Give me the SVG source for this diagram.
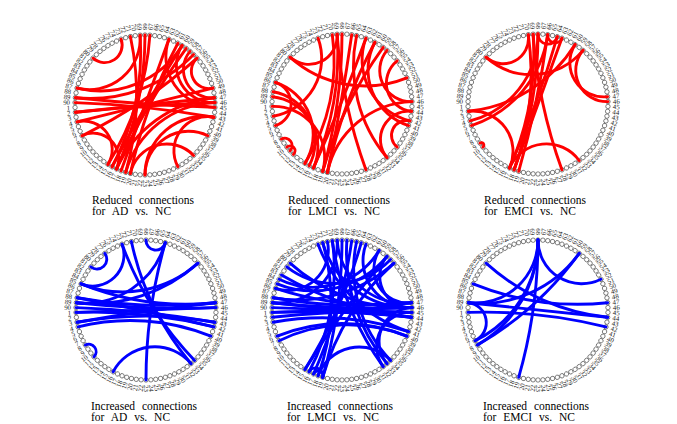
<svg xmlns="http://www.w3.org/2000/svg" xmlns:xlink="http://www.w3.org/1999/xlink" width="677" height="424" viewBox="0 0 677 424">
<style>
.n circle{fill:#fff;stroke:#333;stroke-width:0.6}
.lb text{font-family:'Liberation Serif','Times New Roman',serif;font-size:6.8px;fill:#1a1a1a;dominant-baseline:central}
.lb .e{text-anchor:end}
.red path{fill:none;stroke:#f00;stroke-width:2.9;stroke-linecap:round}
.blue path{fill:none;stroke:#00f;stroke-width:2.9;stroke-linecap:round}
.cap{font-family:'Liberation Serif','Times New Roman',serif;font-size:11.5px;word-spacing:4px;fill:#000}
</style>
<defs>
<g id="ring">
<g class="n">
<circle cx="70" r="2.2" transform="rotate(178)"/><circle cx="70" r="2.2" transform="rotate(174)"/><circle cx="70" r="2.2" transform="rotate(170)"/><circle cx="70" r="2.2" transform="rotate(166)"/><circle cx="70" r="2.2" transform="rotate(162)"/><circle cx="70" r="2.2" transform="rotate(158)"/><circle cx="70" r="2.2" transform="rotate(154)"/><circle cx="70" r="2.2" transform="rotate(150)"/><circle cx="70" r="2.2" transform="rotate(146)"/><circle cx="70" r="2.2" transform="rotate(142)"/><circle cx="70" r="2.2" transform="rotate(138)"/><circle cx="70" r="2.2" transform="rotate(134)"/><circle cx="70" r="2.2" transform="rotate(130)"/><circle cx="70" r="2.2" transform="rotate(126)"/><circle cx="70" r="2.2" transform="rotate(122)"/><circle cx="70" r="2.2" transform="rotate(118)"/><circle cx="70" r="2.2" transform="rotate(114)"/><circle cx="70" r="2.2" transform="rotate(110)"/><circle cx="70" r="2.2" transform="rotate(106)"/><circle cx="70" r="2.2" transform="rotate(102)"/><circle cx="70" r="2.2" transform="rotate(98)"/><circle cx="70" r="2.2" transform="rotate(94)"/><circle cx="70" r="2.2" transform="rotate(90)"/><circle cx="70" r="2.2" transform="rotate(86)"/><circle cx="70" r="2.2" transform="rotate(82)"/><circle cx="70" r="2.2" transform="rotate(78)"/><circle cx="70" r="2.2" transform="rotate(74)"/><circle cx="70" r="2.2" transform="rotate(70)"/><circle cx="70" r="2.2" transform="rotate(66)"/><circle cx="70" r="2.2" transform="rotate(62)"/><circle cx="70" r="2.2" transform="rotate(58)"/><circle cx="70" r="2.2" transform="rotate(54)"/><circle cx="70" r="2.2" transform="rotate(50)"/><circle cx="70" r="2.2" transform="rotate(46)"/><circle cx="70" r="2.2" transform="rotate(42)"/><circle cx="70" r="2.2" transform="rotate(38)"/><circle cx="70" r="2.2" transform="rotate(34)"/><circle cx="70" r="2.2" transform="rotate(30)"/><circle cx="70" r="2.2" transform="rotate(26)"/><circle cx="70" r="2.2" transform="rotate(22)"/><circle cx="70" r="2.2" transform="rotate(18)"/><circle cx="70" r="2.2" transform="rotate(14)"/><circle cx="70" r="2.2" transform="rotate(10)"/><circle cx="70" r="2.2" transform="rotate(6)"/><circle cx="70" r="2.2" transform="rotate(2)"/>
<circle cx="70" r="2.2" transform="rotate(-2)"/><circle cx="70" r="2.2" transform="rotate(-6)"/><circle cx="70" r="2.2" transform="rotate(-10)"/><circle cx="70" r="2.2" transform="rotate(-14)"/><circle cx="70" r="2.2" transform="rotate(-18)"/><circle cx="70" r="2.2" transform="rotate(-22)"/><circle cx="70" r="2.2" transform="rotate(-26)"/><circle cx="70" r="2.2" transform="rotate(-30)"/><circle cx="70" r="2.2" transform="rotate(-34)"/><circle cx="70" r="2.2" transform="rotate(-38)"/><circle cx="70" r="2.2" transform="rotate(-42)"/><circle cx="70" r="2.2" transform="rotate(-46)"/><circle cx="70" r="2.2" transform="rotate(-50)"/><circle cx="70" r="2.2" transform="rotate(-54)"/><circle cx="70" r="2.2" transform="rotate(-58)"/><circle cx="70" r="2.2" transform="rotate(-62)"/><circle cx="70" r="2.2" transform="rotate(-66)"/><circle cx="70" r="2.2" transform="rotate(-70)"/><circle cx="70" r="2.2" transform="rotate(-74)"/><circle cx="70" r="2.2" transform="rotate(-78)"/><circle cx="70" r="2.2" transform="rotate(-82)"/><circle cx="70" r="2.2" transform="rotate(-86)"/><circle cx="70" r="2.2" transform="rotate(-90)"/><circle cx="70" r="2.2" transform="rotate(-94)"/><circle cx="70" r="2.2" transform="rotate(-98)"/><circle cx="70" r="2.2" transform="rotate(-102)"/><circle cx="70" r="2.2" transform="rotate(-106)"/><circle cx="70" r="2.2" transform="rotate(-110)"/><circle cx="70" r="2.2" transform="rotate(-114)"/><circle cx="70" r="2.2" transform="rotate(-118)"/><circle cx="70" r="2.2" transform="rotate(-122)"/><circle cx="70" r="2.2" transform="rotate(-126)"/><circle cx="70" r="2.2" transform="rotate(-130)"/><circle cx="70" r="2.2" transform="rotate(-134)"/><circle cx="70" r="2.2" transform="rotate(-138)"/><circle cx="70" r="2.2" transform="rotate(-142)"/><circle cx="70" r="2.2" transform="rotate(-146)"/><circle cx="70" r="2.2" transform="rotate(-150)"/><circle cx="70" r="2.2" transform="rotate(-154)"/><circle cx="70" r="2.2" transform="rotate(-158)"/><circle cx="70" r="2.2" transform="rotate(-162)"/><circle cx="70" r="2.2" transform="rotate(-166)"/><circle cx="70" r="2.2" transform="rotate(-170)"/><circle cx="70" r="2.2" transform="rotate(-174)"/><circle cx="70" r="2.2" transform="rotate(-178)"/>
</g>
<g class="lb">
<text class="e" x="-75" transform="rotate(-2)">1</text><text class="e" x="-75" transform="rotate(-6)">2</text><text class="e" x="-75" transform="rotate(-10)">3</text><text class="e" x="-75" transform="rotate(-14)">4</text><text class="e" x="-75" transform="rotate(-18)">5</text><text class="e" x="-75" transform="rotate(-22)">6</text><text class="e" x="-75" transform="rotate(-26)">7</text><text class="e" x="-75" transform="rotate(-30)">8</text><text class="e" x="-75" transform="rotate(-34)">9</text><text class="e" x="-75" transform="rotate(-38)">10</text><text class="e" x="-75" transform="rotate(-42)">11</text><text class="e" x="-75" transform="rotate(-46)">12</text><text class="e" x="-75" transform="rotate(-50)">13</text><text class="e" x="-75" transform="rotate(-54)">14</text><text class="e" x="-75" transform="rotate(-58)">15</text><text class="e" x="-75" transform="rotate(-62)">16</text><text class="e" x="-75" transform="rotate(-66)">17</text><text class="e" x="-75" transform="rotate(-70)">18</text><text class="e" x="-75" transform="rotate(-74)">19</text><text class="e" x="-75" transform="rotate(-78)">20</text><text class="e" x="-75" transform="rotate(-82)">21</text><text class="e" x="-75" transform="rotate(-86)">22</text>
<text x="75" transform="rotate(90)">23</text><text x="75" transform="rotate(86)">24</text><text x="75" transform="rotate(82)">25</text><text x="75" transform="rotate(78)">26</text><text x="75" transform="rotate(74)">27</text><text x="75" transform="rotate(70)">28</text><text x="75" transform="rotate(66)">29</text><text x="75" transform="rotate(62)">30</text><text x="75" transform="rotate(58)">31</text><text x="75" transform="rotate(54)">32</text><text x="75" transform="rotate(50)">33</text><text x="75" transform="rotate(46)">34</text><text x="75" transform="rotate(42)">35</text><text x="75" transform="rotate(38)">36</text><text x="75" transform="rotate(34)">37</text><text x="75" transform="rotate(30)">38</text><text x="75" transform="rotate(26)">39</text><text x="75" transform="rotate(22)">40</text><text x="75" transform="rotate(18)">41</text><text x="75" transform="rotate(14)">42</text><text x="75" transform="rotate(10)">43</text><text x="75" transform="rotate(6)">44</text><text x="75" transform="rotate(2)">45</text><text x="75" transform="rotate(-2)">46</text><text x="75" transform="rotate(-6)">47</text><text x="75" transform="rotate(-10)">48</text><text x="75" transform="rotate(-14)">49</text><text x="75" transform="rotate(-18)">50</text><text x="75" transform="rotate(-22)">51</text><text x="75" transform="rotate(-26)">52</text><text x="75" transform="rotate(-30)">53</text><text x="75" transform="rotate(-34)">54</text><text x="75" transform="rotate(-38)">55</text><text x="75" transform="rotate(-42)">56</text><text x="75" transform="rotate(-46)">57</text><text x="75" transform="rotate(-50)">58</text><text x="75" transform="rotate(-54)">59</text><text x="75" transform="rotate(-58)">60</text><text x="75" transform="rotate(-62)">61</text><text x="75" transform="rotate(-66)">62</text><text x="75" transform="rotate(-70)">63</text><text x="75" transform="rotate(-74)">64</text><text x="75" transform="rotate(-78)">65</text><text x="75" transform="rotate(-82)">66</text><text x="75" transform="rotate(-86)">67</text>
<text class="e" x="-75" transform="rotate(90)">68</text><text class="e" x="-75" transform="rotate(86)">69</text><text class="e" x="-75" transform="rotate(82)">70</text><text class="e" x="-75" transform="rotate(78)">71</text><text class="e" x="-75" transform="rotate(74)">72</text><text class="e" x="-75" transform="rotate(70)">73</text><text class="e" x="-75" transform="rotate(66)">74</text><text class="e" x="-75" transform="rotate(62)">75</text><text class="e" x="-75" transform="rotate(58)">76</text><text class="e" x="-75" transform="rotate(54)">77</text><text class="e" x="-75" transform="rotate(50)">78</text><text class="e" x="-75" transform="rotate(46)">79</text><text class="e" x="-75" transform="rotate(42)">80</text><text class="e" x="-75" transform="rotate(38)">81</text><text class="e" x="-75" transform="rotate(34)">82</text><text class="e" x="-75" transform="rotate(30)">83</text><text class="e" x="-75" transform="rotate(26)">84</text><text class="e" x="-75" transform="rotate(22)">85</text><text class="e" x="-75" transform="rotate(18)">86</text><text class="e" x="-75" transform="rotate(14)">87</text><text class="e" x="-75" transform="rotate(10)">88</text><text class="e" x="-75" transform="rotate(6)">89</text><text class="e" x="-75" transform="rotate(2)">90</text>
</g>
</g>
</defs>

<g id="panel-ad-reduced" transform="translate(145,105)">
<use xlink:href="#ring"/>
<g id="edges-ad-reduced" class="red">
<path d="M-52-46.8A17.5 17.5 0 0 0-23.9-65.8"/>
<path d="M-67.9-16.9A50.9 50.9 0 0 0-4.9-69.8"/>
<path d="M-69.6-7.3A143.5 143.5 0 0 0 48.6-50.4"/>
<path d="M-67.9-16.9A96.4 96.4 0 0 0 37.1-59.4"/>
<path d="M-69.6 7.3A2004 2004 0 0 1 70-2.4"/>
<path d="M-69.6 7.3L69.6-7.3"/>
<path d="M-67.9 16.9L67.9-16.9"/>
<path d="M-69.6-7.3A2004 2004 0 0 0 70 2.4"/>
<path d="M-70-2.4A1001 1001 0 0 1 68.9 12.2"/>
<path d="M-4.9-69.8A244 244 0 0 1-32.9 61.8"/>
<path d="M0-70A329 329 0 0 1-28.5 64"/>
<path d="M-14.6-68.5A281 281 0 0 1-19.3 67.3"/>
<path d="M4.9-69.8A281 281 0 0 1-37.1 59.4"/>
<path d="M23.9-65.8L-23.9 65.8"/>
<path d="M32.9-61.8A498 498 0 0 0-14.6 68.5"/>
<path d="M37.1-59.4A2004 2004 0 0 0-32.9 61.8"/>
<path d="M41.2-56.6A666 666 0 0 0-28.5 64"/>
<path d="M45-53.6A28.3 28.3 0 0 0 69.6-7.3"/>
<path d="M37.1-59.4A37.2 37.2 0 0 0 70-2.4"/>
<path d="M23.9-65.8A50.9 50.9 0 0 0 70 2.4"/>
<path d="M52-46.8A17.5 17.5 0 0 0 67.9-16.9"/>
<path d="M-67.9 16.9A28.3 28.3 0 0 1-37.1 59.4"/>
<path d="M-62.9 30.7A25.5 25.5 0 0 1-28.5 64"/>
<path d="M0 70A43.7 43.7 0 0 1 62.9 30.7"/>
<path d="M32.9 61.8A34.1 34.1 0 0 1 68.9 12.2"/>
<path d="M0 70A58.7 58.7 0 0 1 68.9 12.2"/>
<path d="M70-2.4A96.4 96.4 0 0 0-19.3 67.3"/>
<path d="M69.6-7.3A121.3 121.3 0 0 0-28.5 64"/>
<path d="M-62.9 30.7A498 498 0 0 0 52-46.8"/>
<path d="M48.6 50.4A37.2 37.2 0 0 0-14.6 68.5"/>
</g>
</g>

<g id="panel-lmci-reduced" transform="translate(342,104)">
<use xlink:href="#ring"/>
<g id="edges-lmci-reduced" class="red">
<path d="M-52-46.8A28.3 28.3 0 0 0-4.9-69.8"/>
<path d="M-52-46.8A112 112 0 0 0 64.9-26.2"/>
<path d="M-66.6-21.6A54.7 54.7 0 0 1-37.1 59.4"/>
<path d="M-68.9-12.2A50.9 50.9 0 0 1-32.9 61.8"/>
<path d="M-69.6-7.3A50.9 50.9 0 0 1-28.5 64"/>
<path d="M-70 2.4A50.9 50.9 0 0 1-19.3 67.3"/>
<path d="M-60.6 35A7.4 7.4 0 0 1-52 46.8"/>
<path d="M-55.2 43.1A4.9 4.9 0 0 1-48.6 50.4"/>
<path d="M-9.7-69.3A192 192 0 0 1-37.1 59.4"/>
<path d="M-4.9-69.8A281 281 0 0 1-28.5 64"/>
<path d="M0-70A498 498 0 0 1-19.3 67.3"/>
<path d="M9.7-69.3A2004 2004 0 0 1-14.6 68.5"/>
<path d="M-4.9-69.8A498 498 0 0 0 23.9 65.8"/>
<path d="M45-53.6A31.2 31.2 0 0 0 70-2.4"/>
<path d="M23.9-65.8A63 63 0 0 0 67.9 16.9"/>
<path d="M32.9-61.8A58.7 58.7 0 0 0 66.6 21.6"/>
<path d="M69.6 7.3A28.3 28.3 0 0 0 45 53.6"/>
<path d="M67.9 16.9A14.9 14.9 0 0 0 55.2 43.1"/>
<path d="M70-2.4A89.6 89.6 0 0 0-14.6 68.5"/>
<path d="M-23.9-65.8A58.7 58.7 0 0 1-68.9 12.2"/>
<path d="M32.9-61.8A498 498 0 0 0-14.6 68.5"/>
<path d="M23.9-65.8A2004 2004 0 0 1-28.5 64"/>
<path d="M55.2-43.1A28.3 28.3 0 0 0 69.6 7.3"/>
<path d="M41.2-56.6A397 397 0 0 0-19.3 67.3"/>
<path d="M-66.6-21.6A22.7 22.7 0 0 1-66.6 21.6"/>
<path d="M14.6-68.5A143.5 143.5 0 0 0 45 53.6"/>
</g>
</g>

<g id="panel-emci-reduced" transform="translate(538,104)">
<use xlink:href="#ring"/>
<g id="edges-emci-reduced" class="red">
<path d="M-52-46.8A25.5 25.5 0 0 0-9.7-69.3"/>
<path d="M-52-46.8A67.6 67.6 0 0 0 45-53.6"/>
<path d="M-69.6 7.3A40.4 40.4 0 0 1-28.5 64"/>
<path d="M-67.9 16.9A89.6 89.6 0 0 0 0-70"/>
<path d="M-66.6 21.6A112 112 0 0 0 9.7-69.3"/>
<path d="M-69.6 7.3A143.5 143.5 0 0 0 37.1-59.4"/>
<path d="M-28.5 64A281 281 0 0 0-4.9-69.8"/>
<path d="M-23.9 65.8A397 397 0 0 0 0-70"/>
<path d="M-23.9 65.8A281 281 0 0 0-9.7-69.3"/>
<path d="M-19.3 67.3A1001 1001 0 0 0 9.7-69.3"/>
<path d="M-28.5 64A1001 1001 0 0 0 19.3-67.3"/>
<path d="M23.9 65.8A498 498 0 0 1-4.9-69.8"/>
<path d="M-28.5 64A40.4 40.4 0 0 1 41.2 56.6"/>
<path d="M37.1-59.4A34.1 34.1 0 0 0 69.6-7.3"/>
<path d="M45-53.6A31.2 31.2 0 0 0 70-2.4"/>
<path d="M9.7-69.3A7.4 7.4 0 0 0 23.9-65.8"/>
<path d="M0-70A9.8 9.8 0 0 0 19.3-67.3"/>
<path d="M-58 39.1A2.4 2.4 0 0 1-55.2 43.1"/>
<path d="M-23.9 65.8L23.9-65.8"/>
</g>
</g>

<g id="panel-ad-increased" transform="translate(146,310)">
<use xlink:href="#ring"/>
<g id="edges-ad-increased" class="blue">
<path d="M-41.2-56.6A9.8 9.8 0 0 1-55.2-43.1"/>
<path d="M0-70A9.8 9.8 0 0 0 19.3-67.3"/>
<path d="M-68.9-12.2A498 498 0 0 0 69.6-7.3"/>
<path d="M-69.6-7.3A1001 1001 0 0 0 70-2.4"/>
<path d="M-70-2.4A1001 1001 0 0 1 68.9 12.2"/>
<path d="M-70 2.4A498 498 0 0 1 67.9 16.9"/>
<path d="M-70 2.4L70-2.4"/>
<path d="M-68.9 12.2A397 397 0 0 1 68.9 12.2"/>
<path d="M-68.9-12.2A2004 2004 0 0 1 67.9 16.9"/>
<path d="M-64.9-26.2A281 281 0 0 0 69.6-7.3"/>
<path d="M-64.9-26.2A112 112 0 0 0 52-46.8"/>
<path d="M-23.9-65.8A329 329 0 0 0 48.6 50.4"/>
<path d="M-14.6-68.5A281 281 0 0 0 45 53.6"/>
<path d="M-32.9 61.8A47.2 47.2 0 0 1 45 53.6"/>
<path d="M0 70A498 498 0 0 1 19.3-67.3"/>
<path d="M19.3-67.3A83.4 83.4 0 0 1-69.6-7.3"/>
<path d="M-23.9-65.8A31.2 31.2 0 0 1-64.9-26.2"/>
<path d="M-60.6 35A7.4 7.4 0 0 1-52 46.8"/>
<path d="M52-46.8A157 157 0 0 1-69.6-7.3"/>
<path d="M-68.9 12.2A2004 2004 0 0 1 69.6-7.3"/>
<path d="M-67.9 16.9A215 215 0 0 1 64.9 26.2"/>
</g>
</g>

<g id="panel-lmci-increased" transform="translate(342,310)">
<use xlink:href="#ring"/>
<g id="edges-lmci-increased" class="blue">
<path d="M-68.9-12.2A498 498 0 0 0 69.6-7.3"/>
<path d="M-69.6-7.3A1001 1001 0 0 0 70-2.4"/>
<path d="M-70-2.4L70 2.4"/>
<path d="M-70 2.4L70-2.4"/>
<path d="M-70 2.4A1001 1001 0 0 1 69.6 7.3"/>
<path d="M-69.6 7.3A1001 1001 0 0 1 70 2.4"/>
<path d="M-68.9 12.2A281 281 0 0 1 66.6 21.6"/>
<path d="M-62.9 30.7A157 157 0 0 1 64.9 26.2"/>
<path d="M-66.6-21.6A329 329 0 0 0 69.6-7.3"/>
<path d="M-69.6-7.3L69.6 7.3"/>
<path d="M-9.7-69.3A215 215 0 0 1-32.9 61.8"/>
<path d="M0-70A498 498 0 0 1-19.3 67.3"/>
<path d="M9.7-69.3A498 498 0 0 1-28.5 64"/>
<path d="M-19.3-67.3A215 215 0 0 1-23.9 65.8"/>
<path d="M19.3-67.3A498 498 0 0 1-37.1 59.4"/>
<path d="M-9.7-69.3A281 281 0 0 0 41.2 56.6"/>
<path d="M4.9-69.8A173 173 0 0 0 45 53.6"/>
<path d="M14.6-68.5A131.7 131.7 0 0 0 48.6 50.4"/>
<path d="M45-53.6A96.4 96.4 0 0 1-64.9-26.2"/>
<path d="M37.1-59.4A77.7 77.7 0 0 1-62.9-30.7"/>
<path d="M52-46.8A143.5 143.5 0 0 1-68.9-12.2"/>
<path d="M48.6-50.4A77.7 77.7 0 0 1-55.2-43.1"/>
<path d="M-14.6-68.5A40.4 40.4 0 0 1-66.6-21.6"/>
<path d="M-4.9-69.8A58.7 58.7 0 0 1-69.6-7.3"/>
<path d="M37.1-59.4A34.1 34.1 0 0 0 69.6-7.3"/>
<path d="M45-53.6A31.2 31.2 0 0 0 70-2.4"/>
<path d="M23.9-65.8A47.2 47.2 0 0 0 70-2.4"/>
<path d="M70-2.4A34.1 34.1 0 0 0 45 53.6"/>
<path d="M70 2.4A34.1 34.1 0 0 0 41.2 56.6"/>
<path d="M-32.9 61.8A7.4 7.4 0 0 1-19.3 67.3"/>
<path d="M-28.5 64A4.9 4.9 0 0 1-19.3 67.3"/>
<path d="M-37.1 59.4A1001 1001 0 0 1 45-53.6"/>
<path d="M-19.3 67.3A244 244 0 0 1 52-46.8"/>
<path d="M-23.9 65.8A43.7 43.7 0 0 1 48.6 50.4"/>
<path d="M-64.9 26.2A173 173 0 0 1 64.9 26.2"/>
<path d="M-19.3-67.3A89.6 89.6 0 0 0 70-2.4"/>
<path d="M-4.9-69.8A67.6 67.6 0 0 0 69.6-7.3"/>
<path d="M-52-46.8A173 173 0 0 0 70-2.4"/>
<path d="M-60.6-35A329 329 0 0 0 69.6 7.3"/>
<path d="M-23.9-65.8A143.5 143.5 0 0 0 66.6 21.6"/>
</g>
</g>

<g id="panel-emci-increased" transform="translate(538,310)">
<use xlink:href="#ring"/>
<g id="edges-emci-increased" class="blue">
<path d="M0-70A43.7 43.7 0 0 0 62.9-30.7"/>
<path d="M0-70A112 112 0 0 1-62.9 30.7"/>
<path d="M0-70A121.3 121.3 0 0 1-60.6 35"/>
<path d="M0-70A498 498 0 0 1-19.3 67.3"/>
<path d="M0-70A63 63 0 0 1-69.6-7.3"/>
<path d="M41.2-56.6A329 329 0 0 1-60.6 35"/>
<path d="M-52-46.8A215 215 0 0 0 69.6 7.3"/>
<path d="M-64.9-26.2A281 281 0 0 0 69.6-7.3"/>
<path d="M-69.6-7.3L69.6 7.3"/>
<path d="M-70 2.4A498 498 0 0 1 67.9 16.9"/>
<path d="M-69.6-7.3A20.1 20.1 0 0 1-62.9 30.7"/>
<path d="M41.2-56.6A121.3 121.3 0 0 1-69.6-7.3"/>
</g>
</g>

<g id="captions">
<text class="cap" x="92" y="204">Reduced connections</text>
<text class="cap" x="92" y="214.5">for AD vs. NC</text>
<text class="cap" x="288" y="204">Reduced connections</text>
<text class="cap" x="288" y="214.5">for LMCI vs. NC</text>
<text class="cap" x="484" y="204">Reduced connections</text>
<text class="cap" x="484" y="214.5">for EMCI vs. NC</text>
<text class="cap" x="91" y="410">Increased connections</text>
<text class="cap" x="91" y="420.5">for AD vs. NC</text>
<text class="cap" x="287" y="410">Increased connections</text>
<text class="cap" x="287" y="420.5">for LMCI vs. NC</text>
<text class="cap" x="483" y="410">Increased connections</text>
<text class="cap" x="483" y="420.5">for EMCI vs. NC</text>
</g>
</svg>
